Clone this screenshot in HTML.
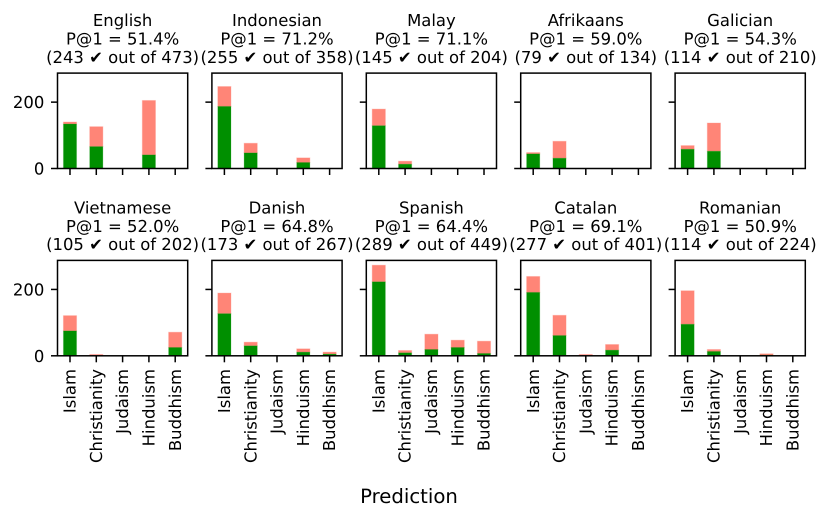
<!DOCTYPE html>
<html>
<head>
<meta charset="utf-8">
<title>Prediction chart</title>
<style>
html,body{margin:0;padding:0;background:#fff;width:830px;height:520px;overflow:hidden}
svg{display:block;filter:blur(0.3px)}
text{font-family:"DejaVu Sans","Liberation Sans",sans-serif;fill:#000;text-rendering:geometricPrecision}
</style>
</head>
<body>
<svg id="chart" width="830" height="520" viewBox="0 0 830 520" xmlns="http://www.w3.org/2000/svg"></svg>
<script>
const categories = ["Islam", "Christianity", "Judaism", "Hinduism", "Buddhism"];
const languages = ["English", "Indonesian", "Malay", "Afrikaans", "Galician", "Vietnamese", "Danish", "Spanish", "Catalan", "Romanian"];
const precisionLabels = ["51.4", "71.2", "71.1", "59.0", "54.3", "52.0", "64.8", "64.4", "69.1", "50.9"];
const correctTotals = [243, 255, 145, 79, 114, 105, 173, 289, 277, 114];
const grandTotals = [473, 358, 204, 134, 210, 202, 267, 449, 401, 224];
const correctCounts = [
  [134, 66, 0, 41, 0],
  [187, 47, 0, 18, 0],
  [129, 13, 0, 0, 0],
  [44, 31, 0, 0, 0],
  [58, 52, 0, 0, 0],
  [75, 0, 0, 0, 25],
  [127, 30, 0, 11, 5],
  [223, 9, 19, 25, 7],
  [191, 61, 0, 17, 0],
  [95, 13, 0, 2, 0]
];
const incorrectCounts = [
  [6, 60, 0, 164, 0],
  [60, 29, 0, 14, 0],
  [50, 9, 0, 0, 0],
  [4, 51, 0, 0, 0],
  [11, 85, 0, 0, 0],
  [46, 4, 0, 0, 46],
  [62, 11, 0, 10, 6],
  [50, 7, 46, 22, 37],
  [48, 61, 4, 17, 0],
  [101, 6, 0, 4, 0]
];
const yTicks = [0, 200];

const NS = "http://www.w3.org/2000/svg";
const svg = document.getElementById("chart");
const panelW = 130.2, panelH = 95.4, stepX = 154.4, stepY = 187.3;
const left0 = 57.5, top0 = 73.1;
const yMax = 287.5, xMin = -0.475, xMax = 4.475, barWidth = 0.5;

function make(tag, attrs, parent) {
  const el = document.createElementNS(NS, tag);
  for (const k in attrs) el.setAttribute(k, attrs[k]);
  parent.appendChild(el);
  return el;
}
function xScale(v, left) { return left + (v - xMin) / (xMax - xMin) * panelW; }
function yScale(v, top) { return top + panelH - v / yMax * panelH; }

languages.forEach(function (lang, i) {
  const col = i % 5, row = Math.floor(i / 5);
  const left = left0 + col * stepX, top = top0 + row * stepY;
  const cx = left + panelW / 2;

  const g = make("g", {}, svg);
  
  

  const titleLines = [lang, "P@1 = " + precisionLabels[i] + "%", "(" + correctTotals[i] + " \u2714 out of " + grandTotals[i] + ")"];
  titleLines.forEach(function (line, j) {
    const t = make("text", { x: cx, y: top - 47 + j * 18.4, "text-anchor": "middle", "font-size": 16.45 }, g);
    
    
    t.textContent = line;
  });

  categories.forEach(function (cat, k) {
    const bx = xScale(k, left);
    const half = barWidth / (xMax - xMin) * panelW / 2;
    const c = correctCounts[i][k], w = incorrectCounts[i][k];
    if (w > 0) {
      const r = make("rect", { x: bx - half, y: yScale(c + w, top), width: half * 2, height: yScale(c, top) - yScale(c + w, top), fill: "#ff8577", stroke: "#ff8577", "stroke-opacity": 0.3, "stroke-width": 1 }, g);
      
      
    }
    if (c > 0) {
      const r = make("rect", { x: bx - half, y: yScale(c, top), width: half * 2, height: yScale(0, top) - yScale(c, top), fill: "#008f00", stroke: "#008f00", "stroke-opacity": 0.2, "stroke-width": 1 }, g);
      
      
    }
    const tick = make("line", { x1: bx, x2: bx, y1: top + panelH, y2: top + panelH + 6.5, stroke: "#000", "stroke-width": 1.5 }, g);
    
    
    if (row === 1) {
      const ty = top + panelH + 13.2;
      const t = make("text", { x: 0, y: 0, "text-anchor": "end", "font-size": 16.45, transform: "translate(" + (bx + 5.6) + "," + ty + ") rotate(-90)" }, g);
      
      
      t.textContent = cat;
    }
  });

  yTicks.forEach(function (v) {
    const y = yScale(v, top);
    const tick = make("line", { x1: left - 6.5, x2: left, y1: y, y2: y, stroke: "#000", "stroke-width": 1.5 }, g);
    
    
    if (col === 0) {
      const t = make("text", { x: left - 13.2, y: y + 6, "text-anchor": "end", "font-size": 16.45 }, g);
      
      
      t.textContent = v;
    }
  });

  const frame = make("rect", { x: left, y: top, width: panelW, height: panelH, fill: "none", stroke: "#000", "stroke-width": 1.5 }, g);
  
  
});

const xTitle = make("text", { x: 409, y: 503, "text-anchor": "middle", "font-size": 19.7 }, svg);


xTitle.textContent = "Prediction";
</script>
</body>
</html>
